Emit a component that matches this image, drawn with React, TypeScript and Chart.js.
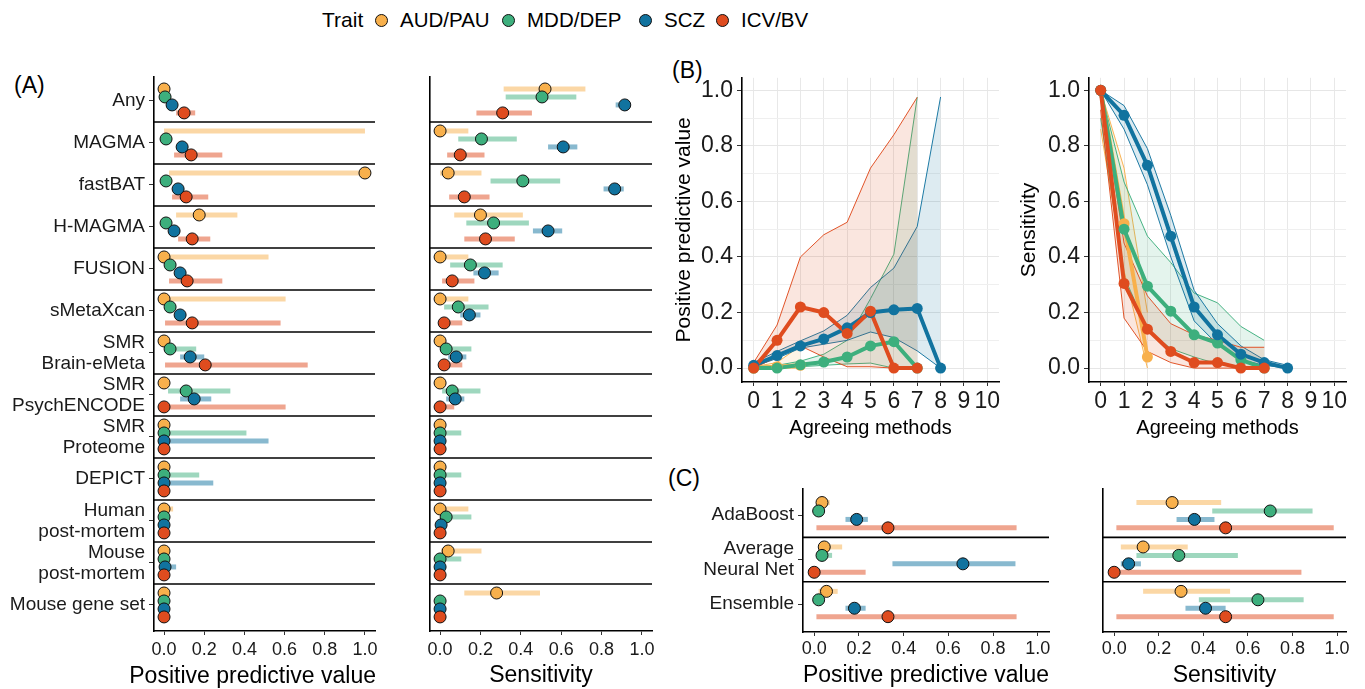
import React, { useEffect, useRef } from 'react';
import { Chart, registerables } from 'chart.js';

Chart.register(...registerables);

const FONT = "'Liberation Sans', Arial, Helvetica, sans-serif";
Chart.defaults.font.family = FONT;

// ---------------- data ----------------
const TRAITS = ['AUD/PAU', 'MDD/DEP', 'SCZ', 'ICV/BV'];
const TRAIT_COLORS = ['#F8B04C', '#3DAF7D', '#11739F', '#DF4C1F'];
const DODGE = [-0.285, -0.095, 0.095, 0.285];

const A_CATEGORIES = [
  'Any', 'MAGMA', 'fastBAT', 'H-MAGMA', 'FUSION', 'sMetaXcan',
  'SMR\nBrain-eMeta', 'SMR\nPsychENCODE', 'SMR\nProteome', 'DEPICT',
  'Human\npost-mortem', 'Mouse\npost-mortem', 'Mouse gene set',
];

// rows: AUD/PAU, MDD/DEP, SCZ, ICV/BV
const A_PPV_EST = [
  [0.0, null, 1.0, 0.175, 0.0, 0.0, 0.0, 0.0, 0.0, 0.0, 0.0, 0.0, 0.0],
  [0.005, 0.01, 0.01, 0.01, 0.03, 0.03, 0.03, 0.11, 0.0, 0.0, 0.0, 0.0, 0.0],
  [0.04, 0.09, 0.07, 0.05, 0.08, 0.08, 0.13, 0.15, 0.0, 0.0, 0.0, 0.005, 0.0],
  [0.1, 0.135, 0.11, 0.14, 0.115, 0.14, 0.205, 0.0, 0.0, 0.0, 0.0, 0.0, 0.0],
];
const A_PPV_LO = [
  [0, 0, 0.025, 0.06, 0, 0, 0, 0, 0, 0, 0, 0, 0],
  [0, 0, 0, 0, 0.01, 0.01, 0, 0.02, 0, 0, 0, 0, 0],
  [0.03, 0.07, 0.055, 0.035, 0.06, 0.06, 0.08, 0.08, 0, 0, 0, 0, 0],
  [0.06, 0.05, 0.04, 0.07, 0.025, 0.005, 0.005, 0, 0, 0, 0, 0, 0],
];
const A_PPV_HI = [
  [0.02, 1.0, 1.0, 0.365, 0.52, 0.605, 0.02, 0.02, 0, 0, 0.045, 0, 0],
  [0.01, 0.02, 0.02, 0.02, 0.06, 0.06, 0.16, 0.33, 0.41, 0.175, 0, 0, 0],
  [0.05, 0.11, 0.09, 0.07, 0.1, 0.1, 0.2, 0.235, 0.52, 0.245, 0, 0.06, 0],
  [0.155, 0.29, 0.22, 0.23, 0.29, 0.58, 0.715, 0.605, 0, 0, 0, 0, 0],
];

const A_SENS_EST = [
  [0.52, 0.0, 0.04, 0.2, 0.0, 0.0, 0.0, 0.0, 0.0, 0.0, 0.0, 0.04, 0.28],
  [0.505, 0.205, 0.41, 0.265, 0.15, 0.09, 0.03, 0.06, 0.0, 0.0, 0.03, 0.0, 0.0],
  [0.915, 0.61, 0.865, 0.535, 0.22, 0.145, 0.08, 0.075, 0.0, 0.0, 0.005, 0.0, 0.0],
  [0.31, 0.1, 0.12, 0.225, 0.06, 0.02, 0.02, 0.0, 0.0, 0.0, 0.0, 0.0, 0.0],
];
const A_SENS_LO = [
  [0.315, 0, 0, 0.07, 0, 0, 0, 0, 0, 0, 0, 0.005, 0.12],
  [0.325, 0.09, 0.25, 0.13, 0.05, 0.02, 0, 0.01, 0, 0, 0, 0, 0],
  [0.87, 0.535, 0.81, 0.46, 0.165, 0.1, 0.04, 0.03, 0, 0, 0, 0, 0],
  [0.18, 0.035, 0.045, 0.12, 0.01, 0, 0, 0, 0, 0, 0, 0, 0],
];
const A_SENS_HI = [
  [0.72, 0.14, 0.205, 0.41, 0.14, 0.14, 0, 0, 0, 0, 0.14, 0.205, 0.495],
  [0.675, 0.38, 0.595, 0.44, 0.31, 0.24, 0.155, 0.2, 0.105, 0.105, 0.155, 0.105, 0],
  [0.94, 0.68, 0.91, 0.605, 0.29, 0.2, 0.13, 0.12, 0, 0, 0.01, 0, 0],
  [0.455, 0.22, 0.245, 0.37, 0.17, 0.11, 0.11, 0.07, 0, 0, 0, 0, 0],
];

const B_X_TICKS = [0, 1, 2, 3, 4, 5, 6, 7, 8, 9, 10];
// index = number of agreeing methods
const B_PPV_MEAN = [
  [0.0, 0.005, 0.01],
  [0.0, 0.0, 0.012, 0.022, 0.04, 0.08, 0.095, 0.0],
  [0.01, 0.045, 0.08, 0.105, 0.145, 0.2, 0.21, 0.215, 0.0],
  [0.0, 0.1, 0.22, 0.2, 0.125, 0.205, 0.0, 0.0],
];
const B_PPV_LO = [
  [0.0, 0.0, 0.0],
  [0.0, 0.0, 0.005, 0.01, 0.015, 0.018, 0.0, 0.0],
  [0.005, 0.035, 0.072, 0.086, 0.1, 0.13, 0.11, 0.062, 0.0],
  [0.0, 0.04, 0.08, 0.04, 0.005, 0.005, 0.0, 0.0],
];
const B_PPV_HI = [
  [0.005, 0.02, 0.08],
  [0.005, 0.01, 0.025, 0.05, 0.1, 0.25, 0.41, 0.975],
  [0.02, 0.06, 0.098, 0.134, 0.19, 0.29, 0.36, 0.51, 0.976],
  [0.02, 0.155, 0.4, 0.48, 0.525, 0.72, 0.84, 0.975],
];

const B_SENS_MEAN = [
  [1.0, 0.52, 0.04],
  [1.0, 0.5, 0.295, 0.205, 0.12, 0.09, 0.03, 0.0],
  [1.0, 0.91, 0.73, 0.475, 0.22, 0.12, 0.05, 0.02, 0.0],
  [1.0, 0.305, 0.14, 0.06, 0.02, 0.02, 0.0, 0.0],
];
const B_SENS_LO = [
  [0.86, 0.35, 0.0],
  [0.9, 0.33, 0.14, 0.07, 0.04, 0.015, 0.005, 0.0],
  [1.0, 0.86, 0.66, 0.4, 0.17, 0.085, 0.03, 0.01, 0.0],
  [0.93, 0.18, 0.06, 0.02, 0.0, 0.0, 0.0, 0.0],
];
const B_SENS_HI = [
  [1.0, 0.72, 0.2],
  [1.0, 0.67, 0.475, 0.38, 0.27, 0.235, 0.15, 0.1],
  [1.0, 0.945, 0.79, 0.55, 0.28, 0.16, 0.08, 0.03, 0.01],
  [1.0, 0.45, 0.26, 0.16, 0.12, 0.1, 0.075, 0.075],
];

const C_CATEGORIES = ['AdaBoost', 'Average\nNeural Net', 'Ensemble'];
const C_PPV_EST = [
  [0.035, 0.045, 0.055],
  [0.02, 0.035, 0.02],
  [0.19, 0.665, 0.18],
  [0.33, 0.0, 0.33],
];
const C_PPV_LO = [
  [0.02, 0.02, 0.02],
  [0.005, 0.01, 0.005],
  [0.14, 0.35, 0.14],
  [0.01, 0.0, 0.01],
];
const C_PPV_HI = [
  [0.07, 0.125, 0.105],
  [0.04, 0.08, 0.04],
  [0.24, 0.9, 0.23],
  [0.905, 0.23, 0.905],
];
const C_SENS_EST = [
  [0.26, 0.13, 0.3],
  [0.7, 0.29, 0.645],
  [0.36, 0.065, 0.41],
  [0.5, 0.0, 0.5],
];
const C_SENS_LO = [
  [0.1, 0.03, 0.13],
  [0.44, 0.1, 0.38],
  [0.28, 0.03, 0.32],
  [0.01, 0.0, 0.01],
];
const C_SENS_HI = [
  [0.48, 0.33, 0.52],
  [0.89, 0.555, 0.85],
  [0.45, 0.12, 0.5],
  [0.985, 0.84, 0.985],
];

const PROP_TICKS = [0, 0.2, 0.4, 0.6, 0.8, 1.0];

// ---------------- helpers ----------------
function rgba(hex: string, a: number) {
  const n = parseInt(hex.slice(1), 16);
  return `rgba(${(n >> 16) & 255},${(n >> 8) & 255},${n & 255},${a})`;
}

const TEXT = '#1a1a1a';

function dotPlotConfig(p: any) {
  const n = p.cats.length;
  const datasets: any[] = [];
  for (let i = 0; i < n - 1; i++) {
    datasets.push({
      data: [{ x: p.xMin, y: i + 0.5 }, { x: p.xMax, y: i + 0.5 }],
      showLine: true, borderColor: '#000', borderWidth: 1.6, pointRadius: 0, order: 100,
    });
  }
  for (let t = 0; t < 4; t++) {
    for (let i = 0; i < n; i++) {
      const lo = p.lo[t][i];
      const hi = p.hi[t][i];
      if (lo == null || hi == null || hi <= lo) continue;
      datasets.push({
        data: [{ x: lo, y: i + DODGE[t] }, { x: hi, y: i + DODGE[t] }],
        showLine: true, borderColor: rgba(TRAIT_COLORS[t], 0.5), borderWidth: 5,
        borderCapStyle: 'butt', pointRadius: 0, order: 50,
      });
    }
  }
  for (let t = 0; t < 4; t++) {
    const pts: any[] = [];
    p.est[t].forEach((v: number | null, i: number) => {
      if (v != null) pts.push({ x: v, y: i + DODGE[t] });
    });
    datasets.push({
      data: pts, showLine: false, pointRadius: 6, pointBackgroundColor: TRAIT_COLORS[t],
      pointBorderColor: '#111', pointBorderWidth: 1, order: 10 - t,
    });
  }
  return {
    type: 'scatter',
    data: { datasets },
    options: {
      responsive: false,
      animation: false,
      events: [],
      layout: { padding: { top: p.padTop, right: p.padRight, left: 0, bottom: 0 } },
      plugins: { legend: { display: false }, tooltip: { enabled: false } },
      scales: {
        x: {
          type: 'linear', min: p.xMin, max: p.xMax,
          afterBuildTicks: (s: any) => { s.ticks = PROP_TICKS.map((v) => ({ value: v })); },
          ticks: {
            callback: (v: number) => v.toFixed(1),
            font: { size: 18, family: FONT }, color: TEXT, padding: p.xTickPad, maxRotation: 0, autoSkip: false,
          },
          grid: { drawOnChartArea: false, drawTicks: true, tickLength: 4, tickColor: '#333', tickWidth: 1 },
          border: { display: true, color: '#000', width: 1.6 },
          title: {
            display: !!p.xTitle, text: p.xTitle || '',
            font: { size: 23, family: FONT }, color: '#000', padding: { top: 0, bottom: 0 },
          },
          afterFit: (s: any) => { s.height = p.xH; },
        },
        y: {
          type: 'linear', reverse: true, min: p.yMin, max: p.yMax,
          afterBuildTicks: (s: any) => { s.ticks = p.cats.map((_: any, i: number) => ({ value: i })); },
          ticks: {
            display: p.showY,
            autoSkip: false,
            callback: (v: number) => p.cats[Math.round(v)].split('\n'),
            font: { size: 19, family: FONT, lineHeight: 1.12 }, color: TEXT, padding: 4,
          },
          grid: { display: p.showY, drawOnChartArea: false, drawTicks: true, tickLength: 5, tickColor: '#333', tickWidth: 1 },
          border: { display: true, color: '#000', width: 1.6 },
          afterFit: (s: any) => { s.width = p.yW; },
        },
      },
    },
  };
}

function agreeConfig(p: any) {
  const datasets: any[] = [];
  for (let t = 0; t < 4; t++) {
    const c = TRAIT_COLORS[t];
    datasets.push({
      data: p.hi[t].map((v: number, i: number) => ({ x: i, y: v })),
      borderColor: rgba(c, 0.95), borderWidth: 1, pointRadius: 0, tension: 0,
      fill: '+1', backgroundColor: rgba(c, 0.14), order: 100 + (3 - t),
    });
    datasets.push({
      data: p.lo[t].map((v: number, i: number) => ({ x: i, y: v })),
      borderColor: rgba(c, 0.95), borderWidth: 1, pointRadius: 0, tension: 0,
      fill: false, order: 100 + (3 - t),
    });
  }
  for (let t = 0; t < 4; t++) {
    datasets.push({
      data: p.mean[t].map((v: number, i: number) => ({ x: i, y: v })),
      borderColor: TRAIT_COLORS[t], borderWidth: 4, pointRadius: 0, fill: false,
      borderJoinStyle: 'round', order: 40 + (3 - t),
    });
  }
  for (let t = 0; t < 4; t++) {
    datasets.push({
      data: p.mean[t].map((v: number, i: number) => ({ x: i, y: v })),
      showLine: false, pointRadius: 5.5, pointBackgroundColor: TRAIT_COLORS[t],
      pointBorderWidth: 0, fill: false, order: 10 + (3 - t),
    });
  }
  const yTicks = [0, 1, 2, 3, 4, 5, 6, 7, 8, 9, 10];
  return {
    type: 'line',
    data: { datasets },
    options: {
      responsive: false,
      animation: false,
      events: [],
      layout: { padding: { top: p.padTop, right: p.padRight, left: 0, bottom: 0 } },
      plugins: { legend: { display: false }, tooltip: { enabled: false } },
      scales: {
        x: {
          type: 'linear', min: -0.5, max: 10.5,
          afterBuildTicks: (s: any) => { s.ticks = B_X_TICKS.map((v) => ({ value: v })); },
          ticks: {
            callback: (v: number) => String(v),
            font: { size: 23, family: FONT }, color: TEXT, padding: 2, maxRotation: 0, autoSkip: false,
          },
          grid: { color: '#E8E8E8', lineWidth: 1, drawTicks: true, tickLength: 4, tickColor: '#333', tickWidth: 1 },
          border: { display: true, color: '#000', width: 1.6 },
          title: {
            display: true, text: 'Agreeing methods',
            font: { size: 20, family: FONT }, color: '#000', padding: { top: 0, bottom: 10 },
          },
          afterFit: (s: any) => { s.height = p.xH; },
        },
        y: {
          type: 'linear', min: -0.05, max: 1.045,
          afterBuildTicks: (s: any) => { s.ticks = yTicks.map((k) => ({ value: k / 10 })); },
          ticks: {
            autoSkip: false,
            callback: (v: number, i: number) => (i % 2 === 0 ? (i / 10).toFixed(1) : ''),
            font: { size: 23, family: FONT }, color: TEXT, padding: 4,
          },
          grid: {
            color: (ctx: any) => (ctx.index % 2 === 0 ? '#E6E6E6' : '#EFEFEF'),
            lineWidth: 1,
            drawTicks: true, tickLength: 5,
            tickColor: (ctx: any) => (ctx.index % 2 === 0 ? '#333' : 'rgba(0,0,0,0)'),
            tickWidth: 1,
          },
          border: { display: true, color: '#000', width: 1.6 },
          title: {
            display: true, text: p.yTitle,
            font: { size: 21, family: FONT }, color: '#000', padding: { top: 7, bottom: 0 },
          },
          afterFit: (s: any) => { s.width = p.yW; },
        },
      },
    },
  };
}

function ChartBox({ x, y, w, h, config }: any) {
  const ref = useRef<HTMLCanvasElement | null>(null);
  useEffect(() => {
    const chart = new Chart(ref.current as HTMLCanvasElement, config() as any);
    return () => chart.destroy();
  }, []);
  return (
    <canvas
      ref={ref}
      width={w}
      height={h}
      style={{ position: 'absolute', left: x, top: y, width: w, height: h }}
    />
  );
}

const LEGEND_TEXT_X = [400, 527, 664, 741];
const LEGEND_DOT_X = [381, 508, 645, 722];

export default function App() {
  const txt = (s: string, left: number, top: number, size: number, extra: any = {}) => (
    <div
      style={{
        position: 'absolute', left, top, fontFamily: FONT, fontSize: size,
        lineHeight: `${Math.round(size * 1.25)}px`, color: '#000', whiteSpace: 'nowrap', ...extra,
      }}
    >
      {s}
    </div>
  );
  return (
    <div style={{ position: 'absolute', left: 0, top: 0, width: 1365, height: 689, background: '#fff', overflow: 'hidden' }}>
      {/* legend */}
      {txt('Trait', 322, 7, 21)}
      {TRAITS.map((t, i) => (
        <React.Fragment key={t}>
          <div
            style={{
              position: 'absolute', left: LEGEND_DOT_X[i] - 6.5, top: 20 - 6.5, width: 11, height: 11,
              borderRadius: '50%', background: TRAIT_COLORS[i], border: '1px solid #111',
            }}
          />
          {txt(t, LEGEND_TEXT_X[i], 7, 20.5)}
        </React.Fragment>
      ))}
      {txt('(A)', 14, 71, 23)}
      {txt('(B)', 672, 56, 23)}
      {txt('(C)', 668, 464, 23)}

      <ChartBox
        x={0} y={60} w={385} h={629}
        config={() => dotPlotConfig({
          cats: A_CATEGORIES, est: A_PPV_EST, lo: A_PPV_LO, hi: A_PPV_HI,
          xTitle: null, xMin: -0.05, xMax: 1.05,
          yMin: -0.57, yMax: 12.62, yW: 154, padTop: 17, padRight: 10, xH: 58, showY: true, xTickPad: 4,
        })}
      />
      {txt('Positive predictive value', 0, 661, 23, { left: 'auto', right: 1365 - 376, textAlign: 'right' })}
      <ChartBox
        x={385} y={60} w={280} h={629}
        config={() => dotPlotConfig({
          cats: A_CATEGORIES, est: A_SENS_EST, lo: A_SENS_LO, hi: A_SENS_HI,
          xTitle: 'Sensitivity', xMin: -0.05, xMax: 1.05,
          yMin: -0.57, yMax: 12.62, yW: 45, padTop: 17, padRight: 13, xH: 58, showY: false, xTickPad: 4,
        })}
      />
      <ChartBox
        x={665} y={60} w={340} h={390}
        config={() => agreeConfig({
          mean: B_PPV_MEAN, lo: B_PPV_LO, hi: B_PPV_HI, yTitle: 'Positive predictive value',
          yW: 77, padTop: 17, padRight: 6, xH: 68,
        })}
      />
      <ChartBox
        x={1010} y={60} w={355} h={390}
        config={() => agreeConfig({
          mean: B_SENS_MEAN, lo: B_SENS_LO, hi: B_SENS_HI, yTitle: 'Sensitivity',
          yW: 79, padTop: 17, padRight: 19, xH: 68,
        })}
      />
      <ChartBox
        x={690} y={470} w={370} h={219}
        config={() => dotPlotConfig({
          cats: C_CATEGORIES, est: C_PPV_EST, lo: C_PPV_LO, hi: C_PPV_HI,
          xTitle: 'Positive predictive value', xMin: -0.05, xMax: 1.05,
          yMin: -0.59, yMax: 2.63, yW: 113, padTop: 19, padRight: 11, xH: 57, showY: true, xTickPad: 2,
        })}
      />
      <ChartBox
        x={1060} y={470} w={305} h={219}
        config={() => dotPlotConfig({
          cats: C_CATEGORIES, est: C_SENS_EST, lo: C_SENS_LO, hi: C_SENS_HI,
          xTitle: 'Sensitivity', xMin: -0.05, xMax: 1.04,
          yMin: -0.59, yMax: 2.63, yW: 43, padTop: 19, padRight: 19, xH: 57, showY: false, xTickPad: 2,
        })}
      />
    </div>
  );
}
